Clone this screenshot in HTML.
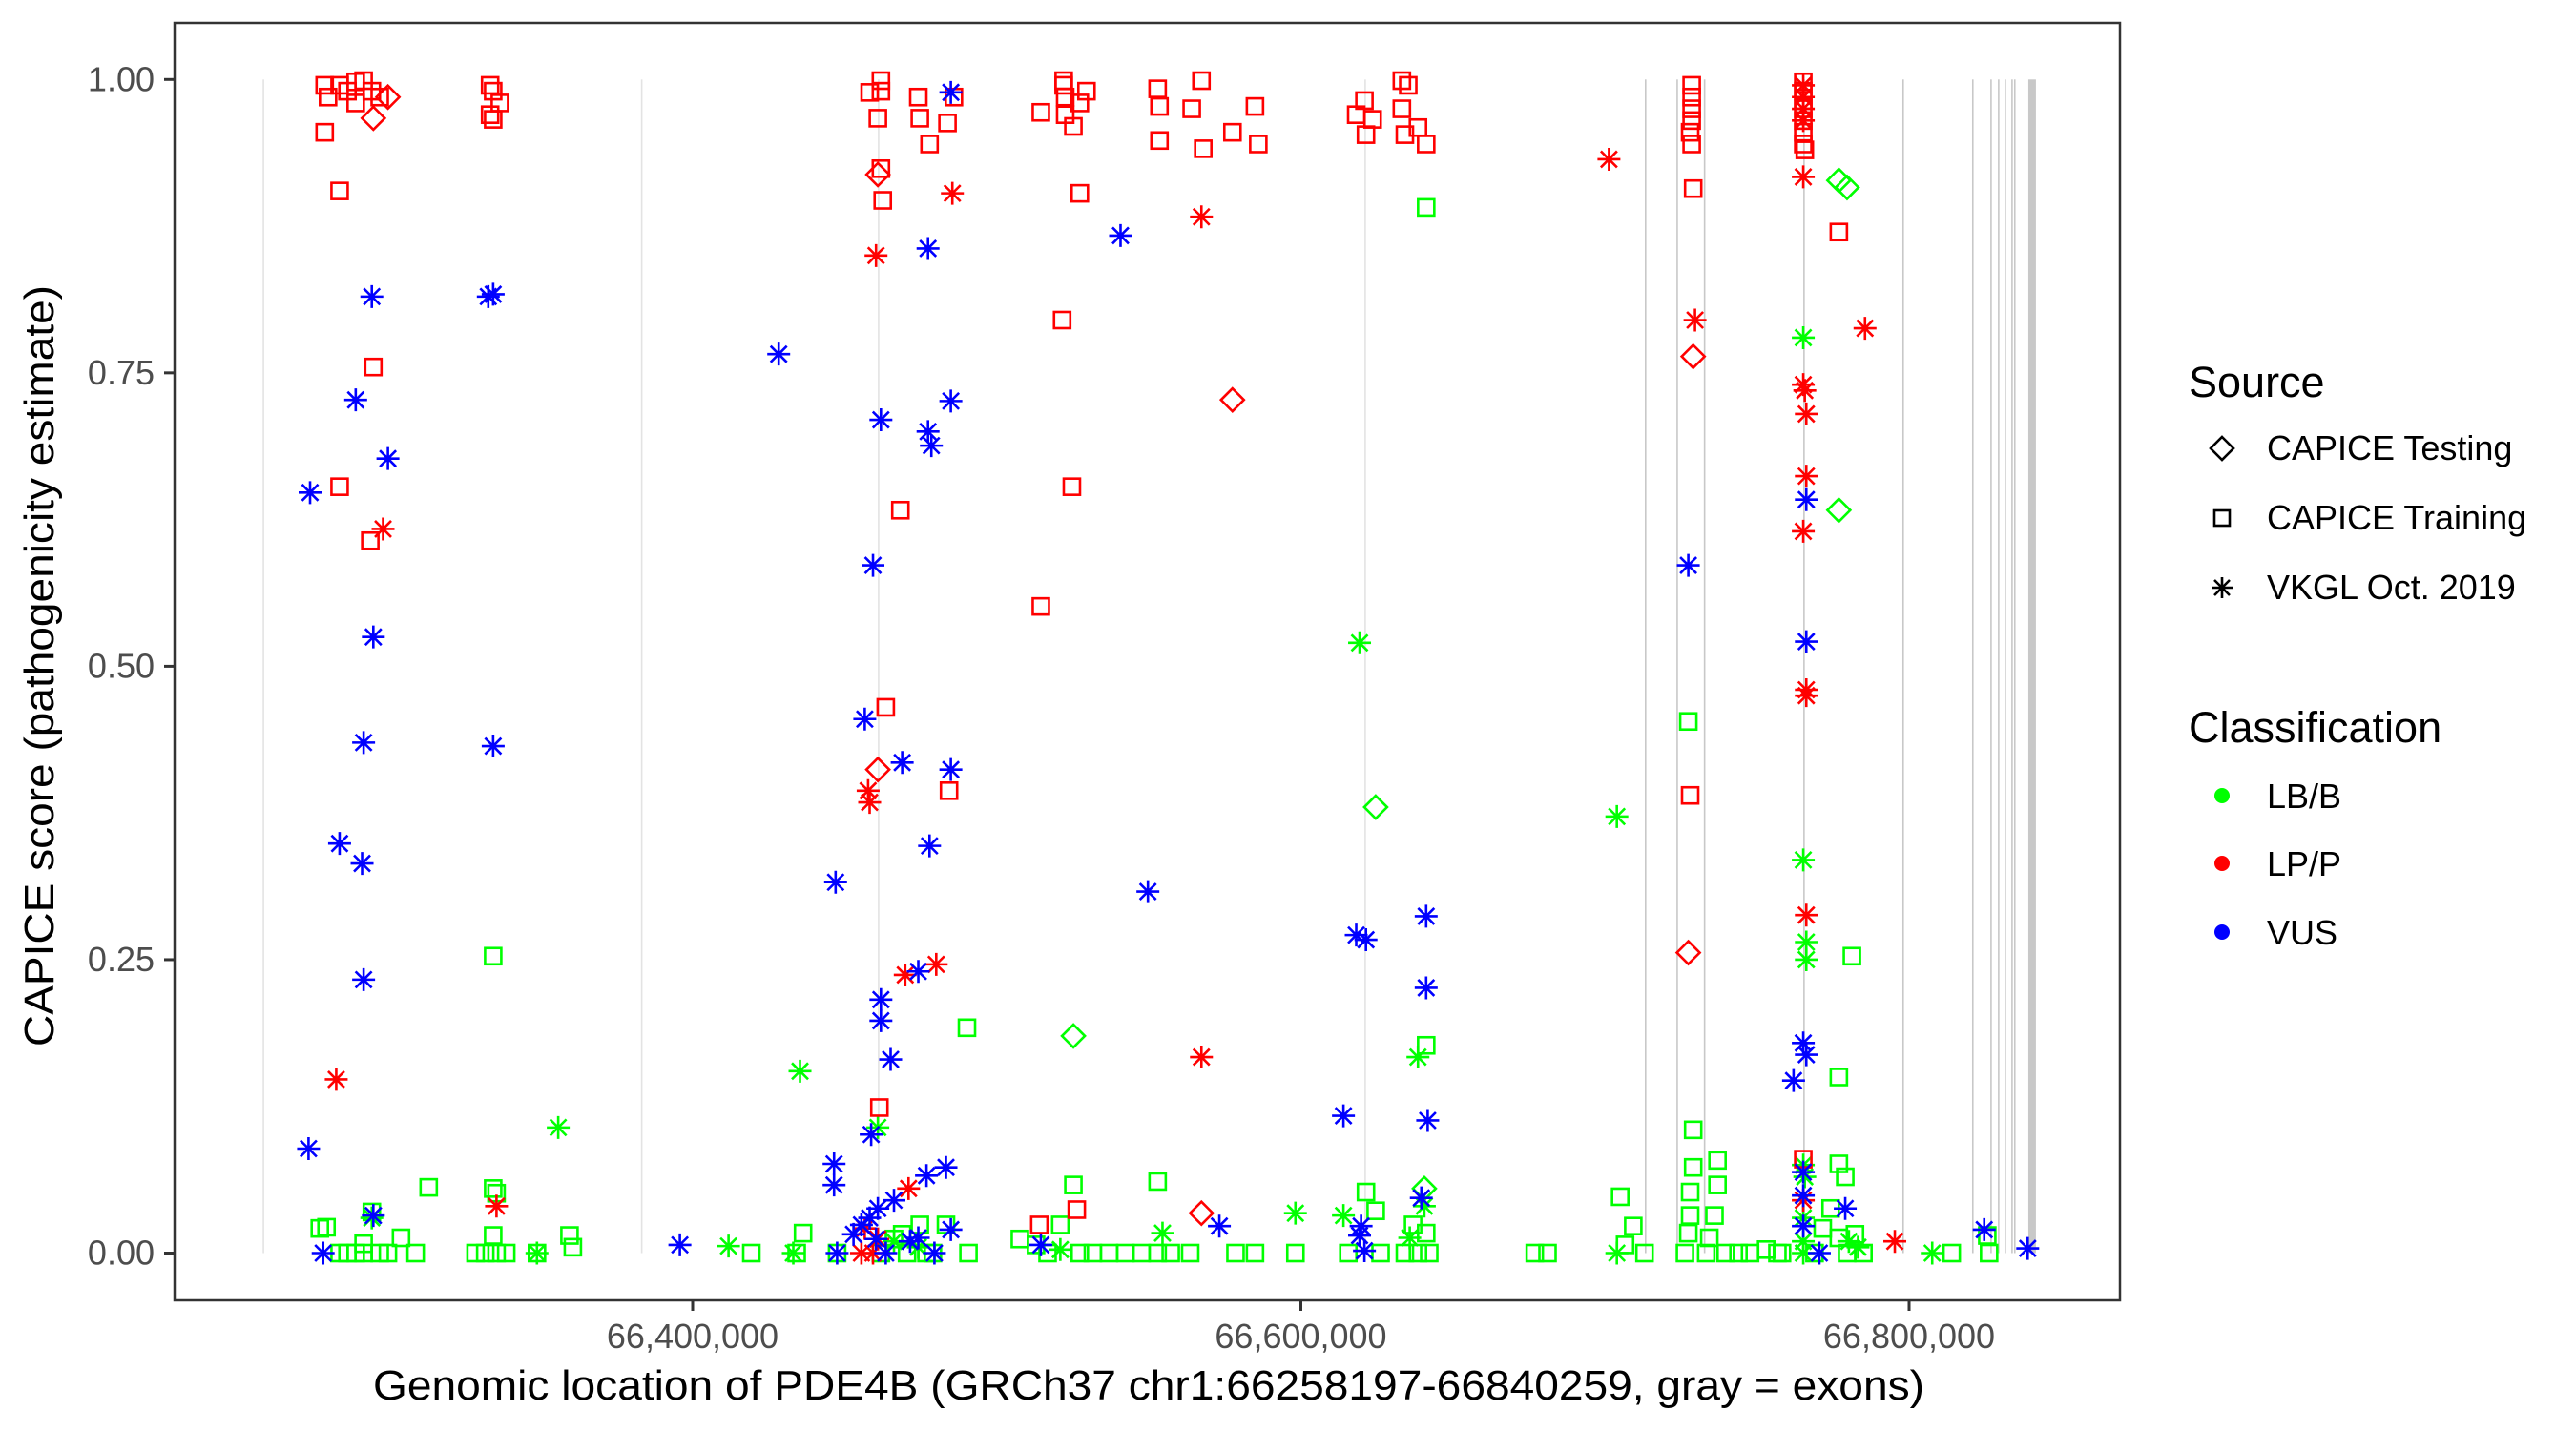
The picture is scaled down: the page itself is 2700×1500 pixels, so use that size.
<!DOCTYPE html>
<html><head><meta charset="utf-8"><title>PDE4B CAPICE scores</title>
<style>
html,body{margin:0;padding:0;background:#fff;}
svg{display:block;font-family:"Liberation Sans",Arial,sans-serif;}
</style></head>
<body>
<svg id="chart" width="2700" height="1500" viewBox="0 0 2700 1500" xmlns="http://www.w3.org/2000/svg">
<rect x="0" y="0" width="2700" height="1500" fill="#fff"/>
<g id="exons"></g>
<g id="points"></g>
<rect x="183" y="24" width="2039" height="1339" fill="none" stroke="#333" stroke-width="2.5"/>
<g id="xaxis"></g>
<g id="yaxis"></g>
<text x="1204" y="1467" text-anchor="middle" font-size="44" textLength="1626" lengthAdjust="spacingAndGlyphs" fill="#000">Genomic location of PDE4B (GRCh37 chr1:66258197-66840259, gray = exons)</text>
<text transform="translate(56,698) rotate(-90)" text-anchor="middle" font-size="44" textLength="798" lengthAdjust="spacingAndGlyphs" fill="#000">CAPICE score (pathogenicity estimate)</text>
<g id="legend" transform="translate(-17,0)">
  <text x="2311" y="416" font-size="45" fill="#000">Source</text>
  <g>
    <path d="M2346 458 L2358 470 L2346 482 L2334 470 Z" fill="none" stroke="#000" stroke-width="2.6"/>
    <text x="2393" y="482" font-size="36" fill="#000">CAPICE Testing</text></g>
  <g>
    <rect x="2338" y="535" width="16" height="16" fill="none" stroke="#000" stroke-width="2.6"/>
    <text x="2393" y="555" font-size="36" fill="#000">CAPICE Training</text></g>
  <g>
    <path d="M2346 605 V627 M2335 616 H2357 M2338 608 L2354 624 M2354 608 L2338 624" stroke="#000" stroke-width="2.6"/>
    <text x="2393" y="628" font-size="36" fill="#000">VKGL Oct. 2019</text></g>
  <text x="2311" y="778" font-size="45" fill="#000">Classification</text>
  <g><circle cx="2346" cy="834" r="8" fill="#00ff00"/><text x="2393" y="847" font-size="36" fill="#000">LB/B</text></g>
  <g><circle cx="2346" cy="905" r="8" fill="#ff0000"/><text x="2393" y="918" font-size="36" fill="#000">LP/P</text></g>
  <g><circle cx="2346" cy="977" r="8" fill="#0000ff"/><text x="2393" y="990" font-size="36" fill="#000">VUS</text></g>
</g>
</svg>
<script>
// ---- data (positions in kb on chr1, scores 0..1) ----
const xTicks = [66400, 66600, 66800];
const xTickLabels = ["66,400,000", "66,600,000", "66,800,000"];
const yTicks = [0, 0.25, 0.5, 0.75, 1];
const yTickLabels = ["0.00", "0.25", "0.50", "0.75", "1.00"];
const exonStart = [66258.6, 66383, 66460.9, 66620.9, 66713.1, 66723.5, 66732.5, 66765.2, 66797.8, 66820.7, 66826.7, 66829.2, 66831.4, 66833.6, 66834.5, 66839.2];
const exonEnd   = [66258.9, 66383.3, 66461.2, 66621.2, 66713.4, 66723.8, 66733.0, 66765.5, 66798.3, 66821.0, 66827.0, 66829.5, 66831.7, 66833.9, 66834.8, 66841.7];

const trainBenignPos = [66277.4,66279.6,66283.9,66286.5,66289.2,66291.8,66294.5,66297.1,66299.8,66304.1,66308.9,66313.2,66291.8,66334.4,66334.4,66335.5,66334.4,66328.6,66331.8,66335.5,66338.7,66348.8,66359.5,66360.6,66419.3,66434.2,66436.3,66447.5,66490.2,66461.9,66466.2,66470.5,66474.7,66479.0,66483.3,66490.7,66468.9,66476.9,66525.2,66552.9,66512.9,66507.6,66516.7,66520.9,66527.3,66531.6,66536.9,66542.3,66547.6,66552.9,66557.2,66563.6,66578.5,66584.9,66598.2,66641.2,66641.2,66621.4,66624.6,66615.6,66634.2,66638.5,66641.2,66642.2,66626.2,66636.9,66676.9,66681.1,66705.0,66709.3,66713.0,66706.6,66727.4,66729.0,66729.0,66728.0,66728.0,66727.4,66726.3,66737.0,66737.0,66736.0,66734.3,66733.3,66739.7,66743.9,66747.7,66753.0,66756.7,66781.2,66776.9,66776.9,66779.0,66774.2,66771.6,66776.9,66779.6,66782.2,66785.0,66768.9,66758.2,66814.0,66826.3,66825.7];
const trainBenignScore = [0.021,0.022,0,0,0,0,0.035,0,0,0.013,0,0.056,0.008,0.253,0.055,0.051,0.015,0,0,0,0,0,0.015,0.005,0,0,0.017,0,0.192,0,0.012,0,0.024,0,0.024,0,0.016,0,0.058,0.061,0.007,0.012,0,0.024,0,0,0,0,0,0,0,0,0,0,0,0.891,0.177,0.052,0.036,0,0,0,0.017,0,0,0.024,0,0,0.048,0.023,0,0.007,0.453,0.105,0.073,0.052,0.032,0.017,0,0.079,0.058,0.032,0.013,0,0,0,0,0.003,0,0.253,0.15,0.076,0.065,0.038,0.021,0.013,0,0.016,0,0,0,0,0,0.015];
const testBenignPos = [66624.6,66640.6,66525.2,66776.9,66779.6,66776.9];
const testBenignScore = [0.38,0.055,0.185,0.914,0.908,0.633];
const vkglBenignPos = [66294.5,66355.8,66348.8,66411.8,66435.3,66433.1,66460.9,66466.2,66474.2,66554.5,66520.9,66598.2,66619.3,66638.5,66640.6,66635.8,66614.0,66703.9,66703.9,66765.2,66765.2,66766.2,66766.2,66765.2,66765.7,66765.2,66765.2,66765.2,66807.6,66780.2,66783.2];
const vkglBenignScore = [0.03,0.107,0,0.006,0.155,0,0.107,0.01,0.005,0.017,0.003,0.034,0.52,0.167,0.04,0.013,0.032,0.372,0,0.78,0.335,0.265,0.25,0.075,0.065,0.03,0.01,0,0,0.01,0.005];
const trainPathoPos = [66279.0,66280.1,66283.9,66286.5,66289.2,66291.8,66294.5,66279.0,66283.9,66295.0,66283.9,66294.0,66297.1,66289.2,66333.4,66334.4,66333.4,66336.6,66334.4,66458.2,66461.9,66461.9,66460.9,66462.5,66461.9,66474.2,66474.7,66477.9,66483.8,66485.9,66468.3,66463.5,66484.3,66461.4,66514.5,66522.0,66522.5,66522.5,66525.2,66527.3,66529.5,66522.0,66521.5,66524.7,66527.3,66514.5,66526.3,66514.0,66552.9,66553.5,66567.3,66564.1,66553.5,66567.9,66577.5,66584.9,66586.0,66618.2,66620.9,66623.6,66621.4,66633.2,66635.3,66633.2,66634.2,66638.5,66641.2,66728.5,66728.5,66728.5,66728.5,66728.0,66728.5,66729.0,66728.0,66765.2,66765.2,66765.2,66765.2,66765.2,66765.2,66765.2,66765.7,66765.2,66776.9];
const trainPathoScore = [0.995,0.985,0.995,0.99,0.998,0.999,0.99,0.955,0.905,0.755,0.653,0.607,0.985,0.98,0.995,0.99,0.97,0.98,0.966,0.989,0.999,0.99,0.967,0.897,0.924,0.985,0.967,0.945,0.963,0.985,0.633,0.465,0.394,0.124,0.972,0.995,0.985,0.97,0.96,0.98,0.99,0.999,0.795,0.653,0.903,0.551,0.037,0.024,0.992,0.977,0.999,0.975,0.948,0.941,0.955,0.977,0.945,0.97,0.982,0.966,0.953,0.999,0.995,0.975,0.953,0.959,0.945,0.995,0.985,0.975,0.965,0.955,0.945,0.907,0.39,0.998,0.99,0.982,0.975,0.965,0.955,0.945,0.94,0.08,0.87];
const testPathoPos = [66295.0,66299.8,66460.9,66460.9,66577.5,66567.3,66729.0,66727.4];
const testPathoScore = [0.967,0.985,0.919,0.412,0.727,0.034,0.764,0.256];
const vkglPathoPos = [66298.2,66282.8,66335.5,66485.4,66460.3,66457.7,66458.2,66469.9,66480.1,66471.0,66456.6,66460.9,66455.5,66459.3,66567.3,66567.3,66701.3,66729.6,66765.2,66765.2,66765.2,66765.2,66765.2,66765.2,66765.7,66766.2,66766.2,66765.2,66766.2,66766.2,66766.2,66785.5,66795.3,66765.2];
const vkglPathoScore = [0.617,0.148,0.04,0.903,0.85,0.394,0.384,0.237,0.246,0.055,0.021,0.012,0,0,0.883,0.167,0.932,0.795,0.995,0.985,0.975,0.965,0.917,0.74,0.735,0.715,0.662,0.615,0.48,0.475,0.288,0.788,0.01,0.045];
const vkglVusPos = [66294.5,66289.2,66299.8,66274.2,66295.0,66291.8,66283.9,66291.3,66291.8,66273.7,66295.0,66278.5,66332.8,66334.4,66334.4,66395.8,66428.3,66447.0,66446.5,66446.5,66447.5,66456.6,66459.3,66461.9,66461.9,66461.9,66465.1,66458.7,66468.9,66477.4,66477.4,66478.5,66477.9,66484.9,66484.9,66484.9,66474.2,66476.9,66483.3,66484.9,66455.5,66460.9,66466.2,66452.9,66471.5,66474.2,66479.5,66463.5,66458.2,66460.3,66540.7,66549.7,66573.2,66514.5,66614.0,66618.2,66621.4,66641.2,66641.2,66641.7,66639.6,66619.8,66620.9,66619.3,66727.4,66766.2,66766.2,66765.2,66766.2,66762.0,66779.0,66770.5,66765.2,66765.2,66765.2,66824.7,66839.0];
const vkglVusScore = [0.815,0.727,0.677,0.648,0.525,0.435,0.349,0.332,0.233,0.089,0.032,0,0.815,0.817,0.432,0.007,0.766,0.316,0.076,0.058,0,0.455,0.586,0.71,0.216,0.198,0.165,0.101,0.418,0.856,0.70,0.688,0.347,0.989,0.726,0.412,0.24,0.066,0.073,0.02,0.024,0.038,0.045,0.016,0.01,0.013,0,0,0.03,0.012,0.867,0.308,0.023,0.007,0.117,0.271,0.267,0.287,0.226,0.113,0.047,0.023,0.002,0.015,0.586,0.642,0.521,0.179,0.169,0.147,0.038,0,0.023,0.049,0.069,0.02,0.004];

// ---- scales ----
const NS = "http://www.w3.org/2000/svg";
function xScale(kb){ return 726 + (kb - 66400) * 3.1875; }
function yScale(v){ return 1313.5 - v * 1230.2; }
function mk(tag, attrs, parent){ const e=document.createElementNS(NS,tag); for(const k in attrs) e.setAttribute(k, attrs[k]); parent.appendChild(e); return e; }

// exons
const gEx = document.getElementById('exons');
for (let i=0;i<exonStart.length;i++){
  const x0 = xScale(exonStart[i]), x1 = xScale(exonEnd[i]);
  const light = i < 4;
  const r = mk('rect',{x:x0, y:yScale(1), width:Math.max(1.6,x1-x0), height:yScale(0)-yScale(1), fill: light ? '#e3e3e3' : '#c8c8c8'}, gEx);
  
  
}

// axes
const gx = document.getElementById('xaxis');
xTicks.forEach((t,i)=>{
  const x = xScale(t);
  const l = mk('line',{x1:x,x2:x,y1:1363,y2:1374,stroke:'#333','stroke-width':3}, gx);
  
  
  const tx = mk('text',{x:x,y:1413,'text-anchor':'middle','font-size':36,fill:'#4d4d4d'}, gx);
  tx.textContent = xTickLabels[i];
  
  
});
const gy = document.getElementById('yaxis');
yTicks.forEach((t,i)=>{
  const y = yScale(t);
  const l = mk('line',{x1:172,x2:183,y1:y,y2:y,stroke:'#333','stroke-width':3}, gy);
  
  
  const tx = mk('text',{x:162,y:y+12,'text-anchor':'end','font-size':36,fill:'#4d4d4d'}, gy);
  tx.textContent = yTickLabels[i];
  
  
});

// points
const gp = document.getElementById('points');
function drawSquare(x,y,c){ return mk('rect',{x:x-8.5,y:y-8.5,width:17,height:17,fill:'none',stroke:c,'stroke-width':2.6}, gp); }
function drawDiamond(x,y,c){ return mk('path',{d:`M${x} ${y-12} L${x+12} ${y} L${x} ${y+12} L${x-12} ${y} Z`,fill:'none',stroke:c,'stroke-width':2.6}, gp); }
function drawStar(x,y,c){ return mk('path',{d:`M${x} ${y-12} V${y+12} M${x-12} ${y} H${x+12} M${x-8.5} ${y-8.5} L${x+8.5} ${y+8.5} M${x+8.5} ${y-8.5} L${x-8.5} ${y+8.5}`,stroke:c,'stroke-width':2.6,fill:'none'}, gp); }
const series = [
  [trainBenignPos, trainBenignScore, drawSquare, '#00ff00', 'training-lb-b-point'],
  [testBenignPos, testBenignScore, drawDiamond, '#00ff00', 'testing-lb-b-point'],
  [vkglBenignPos, vkglBenignScore, drawStar, '#00ff00', 'vkgl-lb-b-point'],
  [trainPathoPos, trainPathoScore, drawSquare, '#ff0000', 'training-lp-p-point'],
  [testPathoPos, testPathoScore, drawDiamond, '#ff0000', 'testing-lp-p-point'],
  [vkglPathoPos, vkglPathoScore, drawStar, '#ff0000', 'vkgl-lp-p-point'],
  [vkglVusPos, vkglVusScore, drawStar, '#0000ff', 'vkgl-vus-point']
];
series.forEach(s=>{
  const [pos, sc, fn, col, nm] = s;
  for (let i=0;i<pos.length;i++){
    const el = fn(xScale(pos[i]), yScale(sc[i]), col);
    
    
  }
});
</script>
</body></html>
